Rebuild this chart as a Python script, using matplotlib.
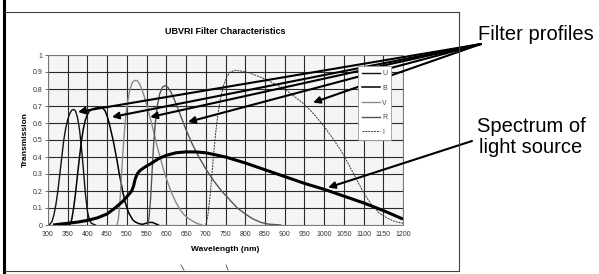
import matplotlib.pyplot as plt
from matplotlib.lines import Line2D

plt.rcParams['font.family'] = ['Liberation Sans', 'DejaVu Sans']

# filter curves (wavelength nm, transmission)
u_nm = [300, 305, 310, 315, 320, 325, 330, 335, 340, 345, 350, 355, 360, 365, 370, 375,
        380, 385, 390, 395, 400, 405, 410, 420]
u_tr = [0, 0.005, 0.02, 0.06, 0.12, 0.20, 0.30, 0.40, 0.50, 0.57, 0.62, 0.655, 0.675, 0.68, 0.67, 0.63,
        0.56, 0.45, 0.32, 0.18, 0.08, 0.03, 0.01, 0]

b_nm = [355, 360, 365, 370, 375, 380, 385, 390, 395, 400, 405, 415, 425, 435, 440, 445,
        450, 455, 460, 465, 470, 475, 480, 485, 490, 495, 500, 505, 510, 515, 520, 530,
        540, 548, 555, 565, 572, 580]
b_tr = [0, 0.03, 0.10, 0.19, 0.30, 0.40, 0.50, 0.57, 0.62, 0.65, 0.67, 0.685, 0.69, 0.69, 0.685, 0.67,
        0.64, 0.60, 0.55, 0.50, 0.44, 0.38, 0.31, 0.25, 0.19, 0.14, 0.10, 0.07, 0.05, 0.03, 0.02, 0.008,
        0.004, 0.01, 0.015, 0.015, 0.008, 0]

v_nm = [475, 478, 482, 486, 490, 494, 498, 503, 508, 514, 520, 526, 532, 538, 545, 552,
        560, 568, 576, 585, 595, 605, 615, 625, 635, 645, 655, 665, 675, 690]
v_tr = [0, 0.03, 0.12, 0.28, 0.43, 0.56, 0.66, 0.74, 0.80, 0.84, 0.85, 0.85, 0.83, 0.80, 0.75, 0.69,
        0.62, 0.55, 0.47, 0.39, 0.31, 0.24, 0.18, 0.13, 0.09, 0.06, 0.04, 0.025, 0.012, 0]

r_nm = [553, 556, 560, 564, 568, 572, 577, 583, 590, 597, 604, 612, 620, 630, 640, 650,
        665, 680, 700, 720, 740, 760, 780, 800, 820, 840, 860, 890]
r_tr = [0, 0.04, 0.15, 0.32, 0.48, 0.60, 0.70, 0.77, 0.81, 0.82, 0.81, 0.78, 0.74, 0.68, 0.62, 0.56,
        0.48, 0.41, 0.33, 0.26, 0.20, 0.15, 0.10, 0.065, 0.035, 0.015, 0.005, 0]

i_nm = [700, 705, 710, 715, 720, 725, 730, 737, 745, 753, 762, 775, 790, 810, 850, 900,
        950, 975, 1000, 1025, 1050, 1075, 1100, 1120, 1140, 1160, 1180, 1200]
i_tr = [0, 0.05, 0.15, 0.28, 0.42, 0.54, 0.64, 0.74, 0.82, 0.87, 0.90, 0.91, 0.905, 0.895, 0.86, 0.80,
        0.71, 0.65, 0.58, 0.50, 0.41, 0.30, 0.19, 0.12, 0.07, 0.04, 0.02, 0.01]

# light source spectrum
s_nm = [313, 330, 350, 375, 400, 425, 450, 470, 490, 505, 512, 517, 521, 526, 533, 545,
        560, 580, 600, 625, 650, 675, 700, 750, 800, 850, 900, 950, 1000, 1050, 1100, 1150, 1200]
s_tr = [0, 0.005, 0.01, 0.017, 0.027, 0.042, 0.065, 0.10, 0.14, 0.18, 0.20, 0.23, 0.27, 0.30, 0.32, 0.34,
        0.36, 0.39, 0.41, 0.425, 0.43, 0.43, 0.425, 0.40, 0.365, 0.325, 0.285, 0.245, 0.21, 0.17, 0.13,
        0.085, 0.035]

x_ticks = list(range(300, 1201, 50))
y_ticks = [0, 0.1, 0.2, 0.3, 0.4, 0.5, 0.6, 0.7, 0.8, 0.9, 1]
y_labels = ['0', '0.1', '0.2', '0.3', '0.4', '0.5', '0.6', '0.7', '0.8', '0.9', '1']

W, H = 599, 274
fig = plt.figure(figsize=(W / 100, H / 100), dpi=100)
ax = fig.add_axes([48 / W, 1 - 225 / H, 355 / W, 170 / H])
ax.set_facecolor('#f5f5f5')

ax.plot(u_nm, u_tr, color='#111111', lw=1.0, label='U')
ax.plot(b_nm, b_tr, color='#000000', lw=1.1, label='B')
ax.plot(v_nm, v_tr, color='#8a8a8a', lw=1.0, label='V')
ax.plot(r_nm, r_tr, color='#555555', lw=1.0, label='R')
ax.plot(i_nm, i_tr, color='#333333', lw=0.7, ls=(0, (2, 1)), label='I')
ax.plot(s_nm, s_tr, color='black', lw=2.2, solid_capstyle='butt', solid_joinstyle='round')

ax.set_xlim(300, 1200)
ax.set_ylim(0, 1)
ax.set_xticks(x_ticks)
ax.set_xticklabels([str(x) for x in x_ticks])
ax.set_yticks(y_ticks)
ax.set_yticklabels(y_labels)
ax.tick_params(labelsize=5, colors='#333333', length=2, width=0.5, pad=2)
ax.tick_params(axis='x', length=0, pad=4)
ax.grid(True, color='#2a2a2a', lw=0.8)
ax.set_axisbelow(True)
for sp in ax.spines.values():
    sp.set_color('#777777')
    sp.set_linewidth(0.7)

ax.set_title('UBVRI Filter Characteristics', fontsize=6.5, fontweight='bold', pad=15)
ax.set_xlabel('Wavelength (nm)', fontsize=6, fontweight='bold', labelpad=6)
ax.set_ylabel('Transmission', fontsize=6, fontweight='bold', labelpad=3)

leg = ax.legend(loc='upper right', bbox_to_anchor=(0.977, 0.955), fontsize=5,
                handlelength=2.6, handletextpad=0.3, labelspacing=1.1,
                borderpad=0.6, fancybox=False, framealpha=1, edgecolor='#999999')
leg.get_frame().set_linewidth(0.6)
for t in leg.get_texts():
    t.set_color('#444444')

# outer frame
fig.add_artist(Line2D([4 / W, 4 / W], [0, 1], color='black', lw=2.2))
fig.add_artist(Line2D([5 / W, 459 / W], [1 - 11.5 / H, 1 - 11.5 / H], color='#444444', lw=0.8))
fig.add_artist(Line2D([5 / W, 459 / W], [1 - 270.5 / H, 1 - 270.5 / H], color='#444444', lw=0.8))
fig.add_artist(Line2D([459 / W, 459 / W], [1 - 11.5 / H, 1 - 270.5 / H], color='#444444', lw=0.8))
# two little stray marks at the bottom edge
fig.add_artist(Line2D([181 / W, 184 / W], [1 - 265 / H, 1 - 270 / H], color='#444444', lw=0.6))
fig.add_artist(Line2D([226 / W, 228 / W], [1 - 265 / H, 1 - 270 / H], color='#444444', lw=0.6))

# annotations on the right
fig.text(536 / W, 1 - 35 / H, 'Filter profiles', fontsize=14.5, ha='center', va='center')
fig.text(531 / W, 1 - 137 / H, 'Spectrum of\nlight source', fontsize=14.5, ha='center',
         va='center', linespacing=1.1)

arrow = dict(arrowstyle='-|>', color='black', lw=1.5, shrinkA=0, shrinkB=0, mutation_scale=10)
tips = [(376, 0.665), (462, 0.635), (559, 0.635), (655, 0.606), (972, 0.72)]
for tx, ty in tips:
    ax.annotate('', xy=(tx, ty), xycoords='data', xytext=(481 / W, 1 - 44 / H),
                textcoords='figure fraction', arrowprops=arrow, annotation_clip=False)
ax.annotate('', xy=(1010, 0.22), xycoords='data', xytext=(472 / W, 1 - 141 / H),
            textcoords='figure fraction', arrowprops=arrow, annotation_clip=False)

plt.savefig('out.png', dpi=100)
